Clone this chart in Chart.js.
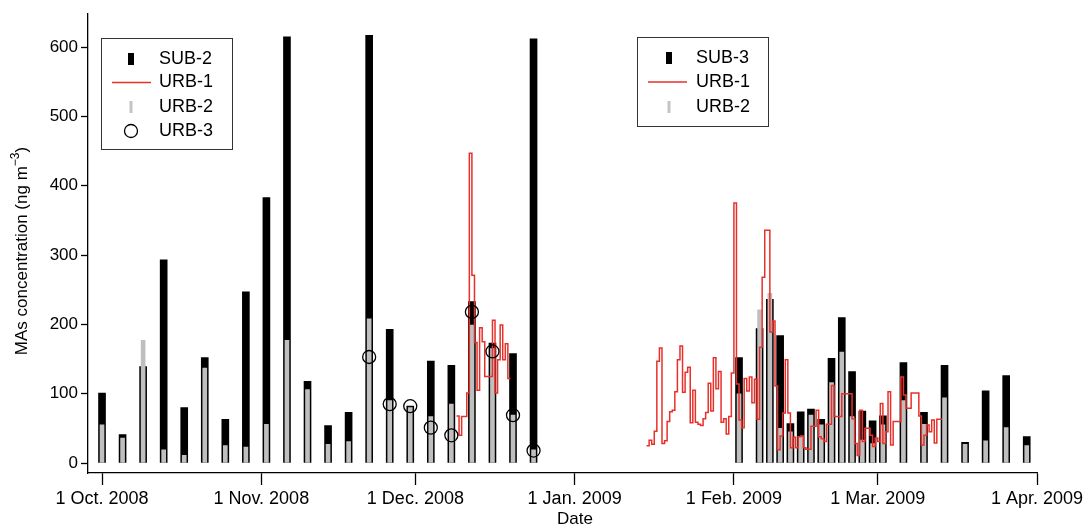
<!DOCTYPE html>
<html>
<head>
<meta charset="utf-8">
<script src="https://cdn.jsdelivr.net/npm/chart.js@4.4.0/dist/chart.umd.min.js"></script>
<style>
  body { margin: 0; background: #fff; }
  .wrap { width: 1089px; height: 528px; position: relative; }
</style>
</head>
<body>
<div class="wrap"><canvas id="myChart"></canvas></div>
<script>
// SUB-2 / URB-2 / URB-3 autumn samples (every 4 days)
const fallDates = ["2008-10-01", "2008-10-05", "2008-10-09", "2008-10-13", "2008-10-17", "2008-10-21",
  "2008-10-25", "2008-10-29", "2008-11-02", "2008-11-06", "2008-11-10", "2008-11-14", "2008-11-18",
  "2008-11-22", "2008-11-26", "2008-11-30", "2008-12-04", "2008-12-08", "2008-12-12", "2008-12-16",
  "2008-12-20", "2008-12-24"];
const sub2Values = [101, 41, 139, 293, 80, 152, 63, 247, 383, 615, 118, 54, 73, 617, 193, 82, 147, 141, 233, 173, 158, 612];
const urb2FallValues = [55, 36, 177, 19, 11, 137, 25, 23, 56, 177, 106, 27, 31, 208, 90, 80, 67, 85, 199, 165, 69, 19];

const urb3Dates = ["2008-11-22", "2008-11-26", "2008-11-30", "2008-12-04", "2008-12-08", "2008-12-12",
  "2008-12-16", "2008-12-20", "2008-12-24"];
const urb3Values = [153, 85, 82, 51, 40, 218, 161, 69, 18];

// SUB-3 / URB-2 winter samples
const winterDates = ["2009-02-02", "2009-02-06", "2009-02-08", "2009-02-10", "2009-02-12", "2009-02-14",
  "2009-02-16", "2009-02-18", "2009-02-20", "2009-02-22", "2009-02-24", "2009-02-26", "2009-02-28",
  "2009-03-02", "2009-03-06", "2009-03-10", "2009-03-14", "2009-03-18", "2009-03-22", "2009-03-26",
  "2009-03-30"];
const sub3Values = [152, 194, 236, 184, 57, 74, 78, 63, 151, 210, 132, 75, 61, 68, 145, 73, 141, 30, 104, 126, 38];
const urb2WinterValues = [100, 221, 245, 50, 45, 38, 69, 55, 116, 160, 67, 33, 28, 55, 90, 56, 94, 27, 32, 51, 25];

// URB-1 12-hourly values
const stepDays = 0.5;
const urb1DecStart = "2008-12-09";
const urb1DecValues = [68, 40, 67, 67, 101, 447, 271, 174, 105, 195, 175, 125, 125, 125, 206, 101, 149, 199, 149, 172, 122];
const urb1WinterStart = "2009-01-15";
const urb1WinterValues = [25, 33, 27, 46, 147, 166, 28, 32, 60, 74, 76, 103, 149, 169, 102, 131, 138, 58, 105, 59,
  56, 54, 64, 73, 115, 75, 152, 107, 132, 59, 64, 42, 67, 130, 375,
  114, 62, 51, 122, 104, 124, 87, 121, 63, 167, 268, 336, 336, 189, 205, 111, 19, 39, 72, 149, 72, 22, 37, 22, 38, 39, 22,
  20, 20, 53, 53, 76, 38, 35, 31, 56, 56, 112, 67, 67, 67, 100, 100, 100, 100, 64, 28, 11, 76, 31, 50, 50, 40, 24, 36,
  31, 86, 28, 45, 103, 26, 60, 60, 60, 124, 98, 79, 79, 101, 101, 101, 68, 26, 40, 55, 45, 62, 29, 63, 63];

const xTickDates = ["2008-10-01", "2008-11-01", "2008-12-01", "2009-01-01", "2009-02-01", "2009-03-01", "2009-04-01"];
const xTickLabels = ["1 Oct. 2008", "1 Nov. 2008", "1 Dec. 2008", "1 Jan. 2009", "1 Feb. 2009", "1 Mar. 2009", "1 Apr. 2009"];
const yTicks = [0, 100, 200, 300, 400, 500, 600];

const FONT = "'Liberation Sans', Arial, sans-serif";

function dayOf(s) {
  let p = s.split("-");
  return (Date.UTC(+p[0], +p[1] - 1, +p[2]) - Date.UTC(2008, 9, 1)) / 86400000;
}
function toPoints(dates, values) {
  return dates.map((d, i) => ({ x: dayOf(d), y: values[i] }));
}
function stepPoints(start, values) {
  let s = dayOf(start);
  let pts = values.map((v, i) => ({ x: s + i * stepDays, y: v }));
  pts.push({ x: s + values.length * stepDays, y: values[values.length - 1] });
  return pts;
}

let urb1Points = stepPoints(urb1DecStart, urb1DecValues);
urb1Points.push({ x: dayOf(urb1DecStart) + urb1DecValues.length * stepDays + 1, y: null });
urb1Points = urb1Points.concat(stepPoints(urb1WinterStart, urb1WinterValues));

const urb2Points = toPoints(fallDates, urb2FallValues).concat(toPoints(winterDates, urb2WinterValues));

// legend boxes + axis titles
const extrasPlugin = {
  id: "extras",
  afterDraw(chart) {
    const ctx = chart.ctx;
    ctx.save();
    ctx.font = "18px " + FONT;
    ctx.textBaseline = "middle";
    ctx.fillStyle = "#000";

    function box(x, y, w, h) {
      ctx.fillStyle = "#fff";
      ctx.fillRect(x, y, w, h);
      ctx.strokeStyle = "#333";
      ctx.lineWidth = 1;
      ctx.strokeRect(x + 0.5, y + 0.5, w, h);
    }
    function label(t, x, y) {
      ctx.fillStyle = "#000";
      ctx.fillText(t, x, y);
    }
    function blackBar(cx, cy) { ctx.fillStyle = "#000"; ctx.fillRect(cx - 3, cy - 6, 6, 12); }
    function grayBar(cx, cy) { ctx.fillStyle = "#c4c4c4"; ctx.fillRect(cx - 1.5, cy - 6, 3, 12); }
    function redLine(x1, x2, y) {
      ctx.strokeStyle = "#e8302a"; ctx.lineWidth = 1.5;
      ctx.beginPath(); ctx.moveTo(x1, y); ctx.lineTo(x2, y); ctx.stroke();
    }

    box(101, 38, 131, 111);
    blackBar(131, 59); label("SUB-2", 159, 59);
    redLine(112, 151, 82.5); label("URB-1", 159, 82.5);
    grayBar(131, 107); label("URB-2", 159, 107);
    ctx.strokeStyle = "#000"; ctx.lineWidth = 1.3;
    ctx.beginPath(); ctx.arc(131, 131, 6.5, 0, Math.PI * 2); ctx.stroke();
    label("URB-3", 159, 131);

    box(637, 37, 131, 89);
    blackBar(669, 58); label("SUB-3", 696, 58);
    redLine(648, 687, 82); label("URB-1", 696, 82);
    grayBar(669, 107); label("URB-2", 696, 107);

    // x title
    ctx.font = "17px " + FONT;
    ctx.textAlign = "center";
    label("Date", 575, 519);

    // y title with superscript
    ctx.translate(22, 251);
    ctx.rotate(-Math.PI / 2);
    let main = "MAs concentration (ng m", sup = "\u22123", tail = ")";
    ctx.font = "17px " + FONT;
    let w1 = ctx.measureText(main).width, w3 = ctx.measureText(tail).width;
    ctx.font = "12px " + FONT;
    let w2 = ctx.measureText(sup).width;
    let x0 = -(w1 + w2 + w3) / 2;
    ctx.textAlign = "left";
    ctx.font = "17px " + FONT;
    label(main, x0, 0);
    ctx.font = "12px " + FONT;
    label(sup, x0 + w1, -6);
    ctx.font = "17px " + FONT;
    label(tail, x0 + w1 + w2, 0);
    ctx.restore();
  }
};

const ctx1 = document.getElementById("myChart").getContext("2d");
const myChart = new Chart(ctx1, {
  type: "bar",
  data: {
    datasets: [
      {
        label: "URB-3",
        type: "line",
        data: toPoints(urb3Dates, urb3Values),
        showLine: false,
        pointRadius: 6.5,
        pointBorderColor: "#000",
        pointBackgroundColor: "rgba(0,0,0,0)",
        pointBorderWidth: 1.3,
        order: 0,
      },
      {
        label: "URB-1",
        type: "line",
        data: urb1Points,
        stepped: true,
        spanGaps: false,
        borderColor: "#e8302a",
        borderWidth: 1.5,
        pointRadius: 0,
        fill: false,
        order: 1,
      },
      {
        label: "URB-2",
        data: urb2Points,
        backgroundColor: "#bfbfbf",
        barThickness: 4,
        grouped: false,
        order: 2,
      },
      {
        label: "SUB-2",
        data: toPoints(fallDates, sub2Values),
        backgroundColor: "#000",
        barThickness: 7,
        grouped: false,
        order: 3,
      },
      {
        label: "SUB-3",
        data: toPoints(winterDates, sub3Values),
        backgroundColor: "#000",
        barThickness: 7,
        grouped: false,
        order: 3,
      },
    ],
  },
  options: {
    responsive: true,
    maintainAspectRatio: false,
    animation: false,
    layout: { padding: { top: 13, right: 52, left: 0, bottom: 0 } },
    plugins: { legend: { display: false }, tooltip: { enabled: false } },
    scales: {
      x: {
        type: "linear",
        min: -2.73,
        max: 182,
        offset: false,
        grid: { offset: false, drawOnChartArea: false, drawTicks: true, tickLength: 12, tickWidth: 1.3, tickColor: "#000" },
        border: { display: true, color: "#000", width: 1.3 },
        afterBuildTicks: (s) => { s.ticks = xTickDates.map((d) => ({ value: dayOf(d) })); },
        afterFit: (s) => { s.height = 55; },
        ticks: {
          autoSkip: false,
          maxRotation: 0,
          padding: 3,
          color: "#000",
          font: { family: FONT, size: 18 },
          callback: (v, i) => xTickLabels[i],
        },
      },
      y: {
        min: -14.4,
        max: 649,
        grid: { drawOnChartArea: false, drawTicks: true, tickLength: 7, tickWidth: 1.3, tickColor: "#000" },
        border: { display: true, color: "#000", width: 1.3 },
        afterBuildTicks: (s) => { s.ticks = yTicks.map((v) => ({ value: v })); },
        afterFit: (s) => { s.width = 88; },
        ticks: { padding: 3, color: "#000", font: { family: FONT, size: 17 } },
      },
    },
  },
  plugins: [extrasPlugin],
});
</script>
</body>
</html>
